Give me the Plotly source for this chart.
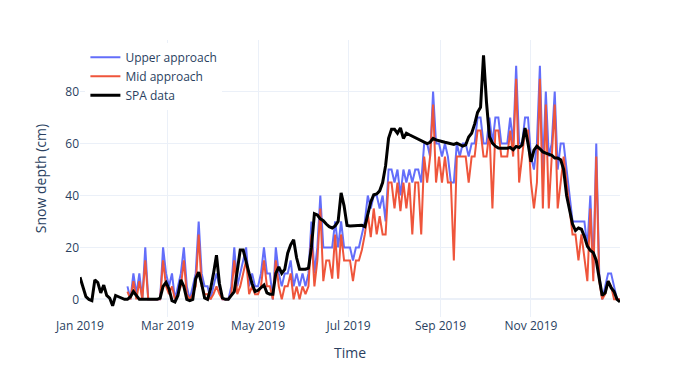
import pandas as pd
import plotly.graph_objects as go

# one reading every two days through 2019
dates = pd.date_range("2019-01-01", "2019-12-31", freq="2D")

# SPA station snow depth (cm)
spa_depth = [
    8.5, 4.5, 1, 0, -0.5, 7.5, 6.5, 2.5, 5.5, 1.5, 0.5, -2.5, 1.5, 1, 0.5, 0,          # Jan
    0, 1, 3, 1.5, 0, 0, 0, 0, 0, 0, 0, 0.5, 5, 6.5,                                    # Feb
    4, -0.5, -1, 1.5, 7.5, 5, 0, -0.5, 0, 8, 10.5, 6, 0.5, 0, 4,                       # Mar
    10, 17, 6, 0.5, 0, 0, 1.5, 3, 11, 19, 19, 14, 10, 6, 3,                            # Apr
    3.5, 4.5, 5.5, 2.5, 2, 2, 10, 12.5, 10, 11.5, 17.8, 21, 23, 16, 11.6,              # May
    11.6, 11.6, 12, 20, 33, 32.5, 31, 30.3, 29, 28, 27.5, 28.3, 30, 41, 36,            # Jun
    28.5, 28.3, 28.3, 28.3, 28.3, 28.5, 28, 32.5, 37.5, 40.3, 40.6, 41.8, 45, 51.5, 62, 65.5,  # Jul
    65.5, 64, 66, 62, 64, 63.4, 62.8, 62.2, 61.7, 61, 60.6, 60, 60.5, 62, 61.4,        # Aug
    61.2, 60.8, 60.5, 60.2, 60, 59.7, 60.2, 59.5, 59, 59.5, 62.5, 64, 67.5, 72, 74,    # Sep
    94, 76, 62.7, 60.2, 59, 58.3, 58.2, 58.2, 58.2, 58.5, 57.6, 58.9, 58.5, 59.5, 66, 60,  # Oct
    53, 57.5, 59, 58, 56.8, 56.3, 56, 55.5, 54.4, 54.4, 53.8, 50, 40, 34, 29,          # Nov
    26.5, 27.5, 27, 24.2, 20.5, 18.8, 18, 15, 8, 1.5, 2.5, 7, 4.5, 3, 0, -1,           # Dec
]

# upper approach estimate (cm), no values in January
upper_depth = [None] * 16 + [
    5, 0, 10, 2, 10, 0, 20, 0, 0, 0, 0, 0, 20, 10,
    5, 10, 0, 5, 10, 20, 5, 0, 5, 10, 30, 10, 5, 5, 0,
    5, 10, 5, 0, 0, 0, 5, 20, 5, 10, 15, 20, 5, 10, 5,
    5, 10, 20, 10, 10, 0, 20, 10, 5, 10, 10, 15, 5, 10, 5,
    10, 5, 10, 30, 10, 20, 40, 20, 20, 20, 20, 30, 20, 30, 20,
    20, 20, 15, 20, 20, 25, 30, 40, 35, 40, 40, 35, 40, 30, 50, 50, 45,
    50, 40, 50, 45, 50, 45, 50, 50, 45, 60, 60, 55, 80, 60, 60,
    55, 60, 55, 45, 45, 60, 55, 60, 60, 55, 60, 60, 70, 70, 60,
    60, 70, 60, 70, 70, 60, 60, 60, 70, 60, 90, 60, 60, 70, 70, 55,
    50, 60, 90, 50, 80, 55, 60, 80, 50, 60, 60, 50, 40, 30, 30,
    30, 30, 30, 20, 40, 10, 60, 10, 0, 5, 10, 10, 5, 0, 0,
]

# mid approach estimate (cm), no values in January
mid_depth = [None] * 16 + [
    3, 0, 7, 0, 7, 0, 15, 0, 0, 0, 0, 0, 15, 5,
    2, 5, 0, 2, 5, 15, 2, 0, 2, 5, 25, 5, 2, 2, 0,
    2, 5, 2, 0, 0, 0, 2, 15, 2, 5, 10, 15, 2, 5, 2,
    2, 5, 15, 5, 5, 0, 15, 5, 0, 5, 5, 10, 0, 5, 0,
    5, 2, 5, 25, 5, 15, 35, 7, 15, 15, 8, 25, 8, 25, 15,
    15, 15, 7, 15, 15, 19, 25, 33, 24, 35, 25, 32, 25, 25, 45, 45, 35,
    45, 34, 45, 35, 45, 25, 45, 45, 25, 55, 45, 55, 75, 45, 55,
    45, 55, 45, 45, 15, 55, 55, 55, 55, 45, 55, 55, 65, 65, 55,
    55, 65, 35, 65, 65, 55, 55, 55, 65, 55, 85, 45, 55, 65, 65, 45,
    35, 45, 85, 35, 75, 35, 55, 75, 35, 45, 55, 45, 35, 25, 25,
    15, 25, 15, 7, 35, 7, 55, 7, 0, 2, 7, 5, 0, 0, 0,
]

assert len(spa_depth) == len(dates)
assert len(upper_depth) == len(dates)
assert len(mid_depth) == len(dates)

fig = go.Figure()
fig.add_trace(go.Scatter(x=dates, y=upper_depth, mode="lines", name="Upper approach",
                         line=dict(color="#636efa", width=2)))
fig.add_trace(go.Scatter(x=dates, y=mid_depth, mode="lines", name="Mid approach",
                         line=dict(color="#EF553B", width=2)))
fig.add_trace(go.Scatter(x=dates, y=spa_depth, mode="lines", name="SPA data",
                         line=dict(color="black", width=3)))

# the page body adds 8px around the figure, so size and margins allow for it
fig.update_layout(
    template="plotly_white",
    width=692,
    height=362,
    margin=dict(l=72, r=80, t=32, b=53),
    xaxis=dict(title="Time", range=["2019-01-01", "2019-12-31"]),
    yaxis=dict(title="Snow depth (cm)", range=[-6.8, 99.9]),
    legend=dict(x=0.01, y=0.99, xanchor="left", yanchor="top", bgcolor="white"),
)

fig.write_html("out.html")
